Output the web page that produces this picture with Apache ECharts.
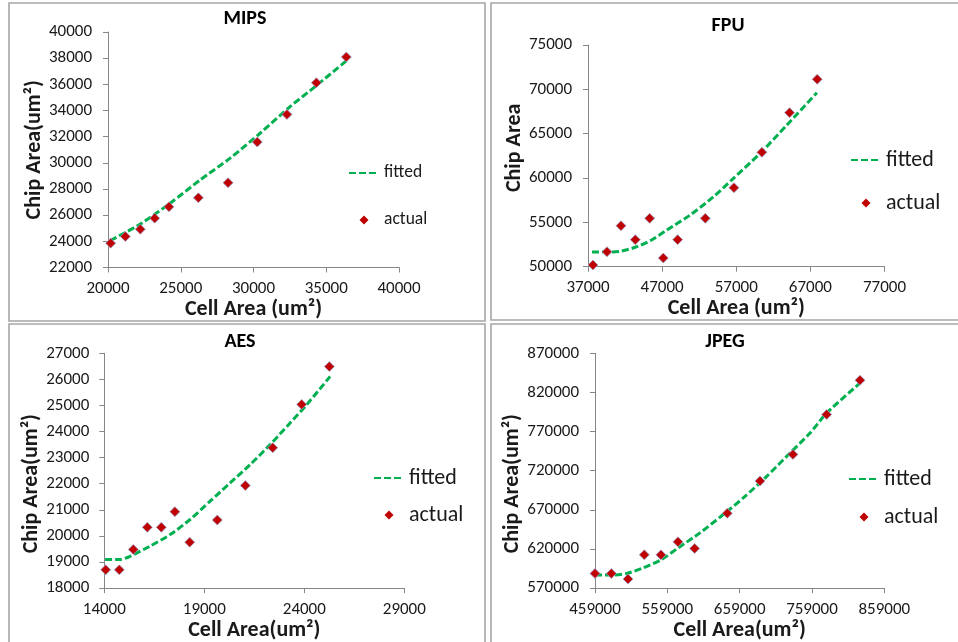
<!DOCTYPE html>
<html><head><meta charset="utf-8">
<script src="https://cdn.jsdelivr.net/npm/echarts@6/dist/echarts.min.js"></script>
<style>html,body{margin:0;padding:0;background:#fff}#c{width:958px;height:642px}</style>
</head><body><div id="c"></div>
<script>
// ---------- data ----------
const mipsCell = [20180, 21190, 22220, 23210, 24190, 26210, 28250, 30260, 32300, 34320, 36380];
const mipsChip = [23860, 24370, 24930, 25770, 26640, 27330, 28480, 31590, 33700, 36120, 38090];
const mipsFitX = [20160, 22220, 24280, 26340, 28400, 30470, 32530, 34320, 36380];
const mipsFitY = [24060, 25320, 26920, 28700, 30360, 32280, 34310, 35900, 37800];

const fpuCell = [37670, 39560, 41450, 43380, 45320, 47160, 49090, 52820, 56690, 60460, 64190, 67920];
const fpuChip = [50190, 51690, 54620, 53050, 55450, 50980, 53050, 55450, 58910, 62900, 67370, 71130];
const fpuFitX = [37540, 39560, 41360, 43380, 45400, 47650, 50790, 53940, 56630, 60230, 63830, 67880];
const fpuFitY = [51660, 51660, 51740, 52190, 52930, 54140, 55830, 57890, 59970, 62790, 65980, 69620];

const aesCell = [14070, 14750, 15450, 16150, 16850, 17530, 18270, 19650, 21050, 22420, 23870, 25250];
const aesChip = [18700, 18700, 19480, 20330, 20330, 20930, 19760, 20610, 21930, 23380, 25040, 26490];
const aesFitX = [14040, 14790, 15290, 16290, 17290, 18290, 19290, 20290, 21290, 22290, 23290, 24120, 25290];
const aesFitY = [19100, 19100, 19220, 19610, 20050, 20630, 21330, 22030, 22730, 23500, 24330, 25030, 26110];

const jpegCell = [459000, 481600, 504600, 527200, 550200, 573700, 596800, 641900, 687100, 732700, 779300, 825400];
const jpegChip = [588700, 588700, 581500, 612500, 612500, 629100, 620600, 665600, 706800, 740800, 791800, 835600];
const jpegFitX = [459000, 479700, 502800, 525800, 551200, 574200, 604200, 636400, 664000, 696400, 728600, 756300, 779300, 825400];
const jpegFitY = [586600, 586600, 588700, 596000, 606600, 621500, 640600, 664000, 685200, 712800, 742600, 768100, 793600, 831900];

const titles = ['MIPS', 'FPU', 'AES', 'JPEG'];
const xNames = ['Cell Area (um²)', 'Cell Area (um²)', 'Cell Area(um²)', 'Cell Area(um²)'];
const yNames = ['Chip Area(um²)', 'Chip Area', 'Chip Area(um²)', 'Chip Area(um²)'];
const xRanges = [[20000, 40000, 5000], [37000, 77000, 10000], [14000, 29000, 5000], [459000, 859000, 100000]];
const yRanges = [[22000, 40000, 2000], [50000, 75000, 5000], [18000, 27000, 1000], [570000, 870000, 50000]];
const seriesNames = ['fitted', 'actual'];

// ---------- layout / style ----------
const FONT = 'Carlito, "Liberation Sans", Arial, sans-serif';
const TXT = '#1a1a1a';
const AX = '#868686';
// diamond centred in a 30x9 legend box (tiny corner anchors keep the box undistorted)
const DIAMOND_ICON = 'path://M0,0L0.01,0L0,0.01Z M15,-0.5L20,4.5L15,9.5L10,4.5Z M30,9L29.99,9L30,8.99Z';
const layout = [
  {grid: {left: 108, top: 32, width: 291, height: 235.5}, title: [245, 19], yGap: 63, yPad: [0,0,0,0], yLab: 16,
   legend: {left: 348, top: 164, fs: 17.5, gap: 29}},
  {grid: {left: 588, top: 45, width: 296.5, height: 221.7}, title: [728, 26], yGap: 62, yPad: [0,0,0,16], yLab: 16,
   legend: {left: 850, top: 149, fs: 22, gap: 21}},
  {grid: {left: 104.3, top: 353.3, width: 300, height: 235.4}, title: [240, 342], yGap: 60, yPad: [0,26,0,0], yLab: 15,
   legend: {left: 373, top: 467, fs: 22, gap: 15}},
  {grid: {left: 595, top: 353.3, width: 289.3, height: 235.4}, title: [725, 342], yGap: 72, yPad: [0,26,0,0], yLab: 16,
   legend: {left: 848, top: 468, fs: 22, gap: 16}}
];

const actual = [[mipsCell, mipsChip], [fpuCell, fpuChip], [aesCell, aesChip], [jpegCell, jpegChip]];
const fitted = [[mipsFitX, mipsFitY], [fpuFitX, fpuFitY], [aesFitX, aesFitY], [jpegFitX, jpegFitY]];
const pairs = (xs, ys) => xs.map((x, i) => [x, ys[i]]);
const plain = v => String(v);

const grids = [], xAxes = [], yAxes = [], series = [], legends = [], graphics = [];
layout.forEach((L, i) => {
  grids.push(Object.assign({containLabel: false}, L.grid));
  xAxes.push({
    type: 'value', gridIndex: i, min: xRanges[i][0], max: xRanges[i][1], interval: xRanges[i][2],
    splitLine: {show: false},
    axisLine: {show: true, onZero: false, lineStyle: {color: AX, width: 1}},
    axisTick: {show: true, length: 5, lineStyle: {color: AX}},
    axisLabel: {margin: 13, fontSize: 17, color: TXT, fontFamily: FONT, formatter: plain,
                showMinLabel: true, showMaxLabel: true},
    name: xNames[i], nameLocation: 'middle', nameGap: 28,
    nameTextStyle: {fontSize: 22, fontWeight: 'bold', color: TXT, fontFamily: FONT}
  });
  yAxes.push({
    type: 'value', gridIndex: i, min: yRanges[i][0], max: yRanges[i][1], interval: yRanges[i][2],
    splitLine: {show: false},
    axisLine: {show: true, onZero: false, lineStyle: {color: AX, width: 1}},
    axisTick: {show: true, length: 5, lineStyle: {color: AX}},
    axisLabel: {margin: L.yLab, fontSize: 17, color: TXT, fontFamily: FONT, formatter: plain,
                showMinLabel: true, showMaxLabel: true},
    name: yNames[i], nameLocation: 'middle', nameGap: L.yGap,
    nameTextStyle: {fontSize: 22, fontWeight: 'bold', color: TXT, fontFamily: FONT, padding: L.yPad}
  });
  series.push({
    name: seriesNames[0], type: 'line', xAxisIndex: i, yAxisIndex: i,
    data: pairs(fitted[i][0], fitted[i][1]), smooth: 0.25, symbol: 'none', z: 2,
    lineStyle: {color: '#00b050', width: 3, type: [7, 3]}, itemStyle: {color: 'rgba(0,0,0,0)', opacity: 0}
  });
  series.push({
    name: seriesNames[1], type: 'scatter', xAxisIndex: i, yAxisIndex: i,
    data: pairs(actual[i][0], actual[i][1]), symbol: 'diamond', symbolSize: 10, z: 3,
    itemStyle: {color: '#c00000', opacity: 1, borderColor: '#9aa6d0', borderWidth: 0.8}
  });
  legends.push({
    orient: 'vertical', left: L.legend.left, top: L.legend.top, padding: 0, itemWidth: 30, itemHeight: 9,
    itemGap: L.legend.gap, selectedMode: false,
    data: [{name: seriesNames[0]},
           {name: seriesNames[1], icon: DIAMOND_ICON, itemStyle: {color: '#c00000', borderWidth: 0}}],
    textStyle: {fontSize: L.legend.fs, color: TXT, fontFamily: FONT}
  });
  graphics.push({
    type: 'text', silent: true, x: L.title[0], y: L.title[1],
    style: {text: titles[i], fill: '#000', font: 'bold 20px ' + FONT, textAlign: 'center', textVerticalAlign: 'middle'}
  });
});
// panel frames
[[9, 3, 476, 318], [491, 3, 480, 317], [9, 324, 476, 330], [491, 324, 480, 330]].forEach(r => {
  graphics.push({type: 'rect', silent: true, z: -1, shape: {x: r[0], y: r[1], width: r[2], height: r[3]},
    style: {fill: 'none', stroke: '#a6a6a6', lineWidth: 1.6}});
});

const chart = echarts.init(document.getElementById('c'));
chart.setOption({
  animation: false,
  backgroundColor: '#ffffff',
  grid: grids, xAxis: xAxes, yAxis: yAxes, series: series, legend: legends,
  graphic: {elements: graphics}
});
</script></body></html>
